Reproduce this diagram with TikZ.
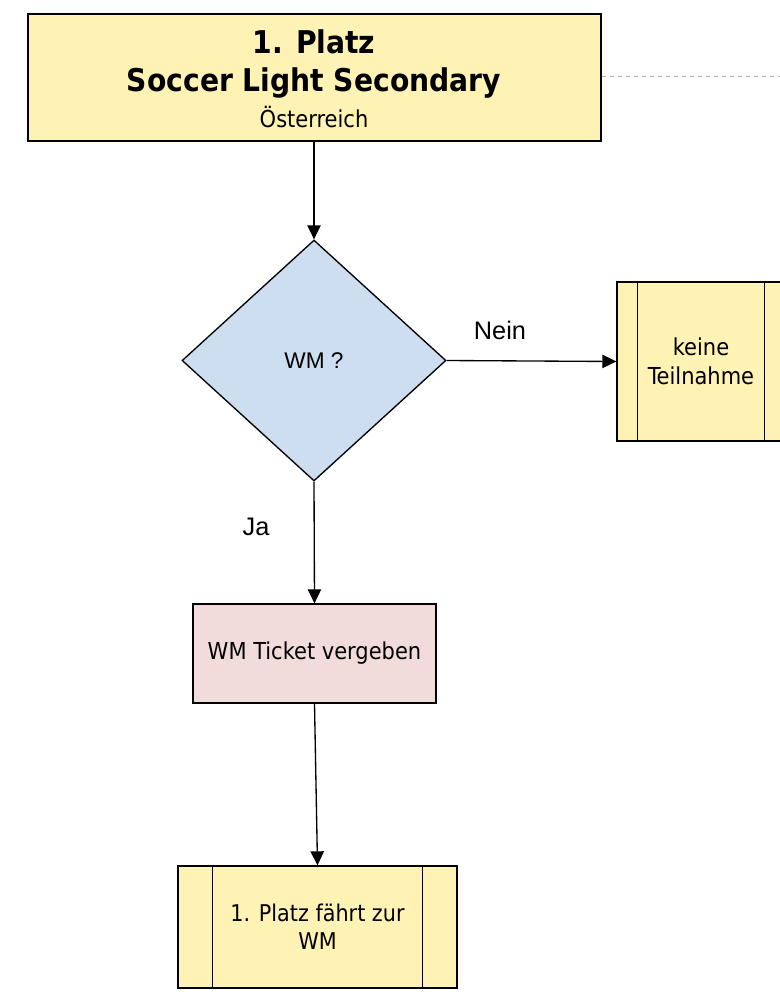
\documentclass[tikz,border=0pt]{standalone}
\usepackage{fontspec}
\setmainfont{Liberation Sans}
\newfontfamily\tahoma{DejaVu Sans Condensed}
\usetikzlibrary{shapes.geometric,arrows.meta}

\definecolor{boxyellow}{RGB}{255,242,181}
\definecolor{boxblue}{RGB}{204,222,240}
\definecolor{boxpink}{RGB}{242,220,219}

\tikzset{every picture/.style={line width=1pt}}
\tikzset{
  flowbox/.style={draw, rectangle, align=center, inner sep=0pt, font=\tahoma},
  subproc/.style={flowbox, fill=boxyellow},
  flowline/.style={-{Triangle[length=10.5pt,width=10pt]}},
}

\begin{document}
\begin{tikzpicture}[x=0.75pt,y=0.75pt,yscale=-1,xscale=1]
\useasboundingbox (0,0) rectangle (780,1000);

%Start box
\node [flowbox, fill=boxyellow, minimum width=429.75pt, minimum height=95.25pt] (platz) at (314.5,77.5) {};
\node [font=\tahoma\bfseries\fontsize{23.5}{28.5}\selectfont, align=center] (titel) at (314,63.5) {1. Platz\\Soccer Light Secondary};
\node [font=\tahoma\fontsize{17.5}{20}\selectfont] (land) at (314,117.5) {Österreich};
%dashed line to the right
\coordinate (rand) at (782,76);
\draw [gray!60, dashed, line width=0.75pt] (platz.east |- rand) -- (rand);

%Decision
\node [draw, diamond, aspect=1.1, fill=boxblue, minimum width=198pt, minimum height=180.75pt, inner sep=0pt, font=\fontsize{17}{20}\selectfont] (wm) at (314,360.5) {WM ?};

%keine Teilnahme (clipped by the page)
\node [subproc, minimum width=126pt, minimum height=119.25pt, font=\tahoma\fontsize{17.5}{22}\selectfont] (keine) at (701,361.5) {keine\\Teilnahme};
\draw ([xshift=15.75pt]keine.north west) -- ([xshift=15.75pt]keine.south west);
\draw ([xshift=-15.75pt]keine.north east) -- ([xshift=-15.75pt]keine.south east);

%Ticket
\node [flowbox, fill=boxpink, minimum width=182.25pt, minimum height=74.25pt, font=\tahoma\fontsize{17.5}{21}\selectfont] (ticket) at (314.5,653.5) {WM Ticket vergeben};

%Final box
\node [subproc, minimum width=209.25pt, minimum height=91.5pt, font=\tahoma\fontsize{17.3}{21}\selectfont] (fahrt) at (317.5,927) {1. Platz fährt zur\\WM};
\draw ([xshift=26.25pt]fahrt.north west) -- ([xshift=26.25pt]fahrt.south west);
\draw ([xshift=-26.25pt]fahrt.north east) -- ([xshift=-26.25pt]fahrt.south east);

%Connectors
\draw [flowline] (platz.south -| wm.north) -- (wm.north);
\draw [flowline] (wm.east) -- (keine.west);
\draw [flowline] (wm.south) -- (ticket.north);
\draw [flowline] (ticket.south) -- (fahrt.north);

% Text Node
\node [font=\fontsize{19}{22}\selectfont] (nein) at (500,330) {Nein};
% Text Node
\node [font=\fontsize{19}{22}\selectfont] (ja) at (256,527) {Ja};

\end{tikzpicture}
\end{document}
